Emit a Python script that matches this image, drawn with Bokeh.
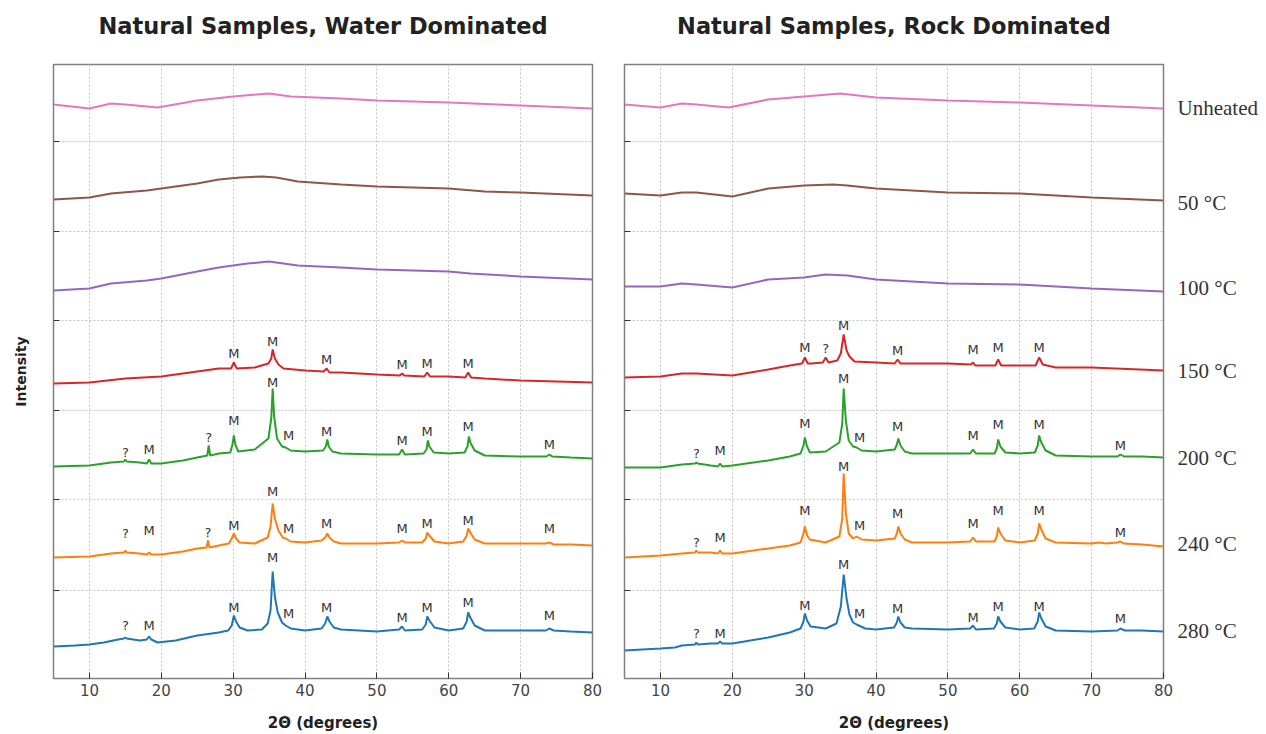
from bokeh.plotting import figure
from bokeh.models import Range1d, FixedTicker, LinearAxis, ColumnDataSource, CustomLabelingPolicy
from bokeh.layouts import row
from bokeh.core.properties import value
from bokeh.embed import file_html
from bokeh.resources import INLINE

# ---------------- data (2-theta in degrees, intensity in arbitrary offset units) -------------
TEMPS = ["280 °C", "240 °C", "200 °C", "150 °C", "100 °C", "50 °C", "Unheated"]
COLORS = ["#1f77b4", "#ff7f0e", "#2ca02c", "#d62728", "#9467bd", "#8c564b", "#e377c2"]
LABEL_Y = [48, 135, 221, 308, 391, 476, 571]
Y_TICKS = [88, 179, 268, 358, 447, 537]
X_TICKS = [10, 20, 30, 40, 50, 60, 70, 80]

# ---- Water dominated ----
W280_X = [5, 8, 10, 12, 14, 14.8, 15, 15.2, 17, 18.0, 18.3, 18.6, 19.5, 22, 25, 28, 29.3, 29.8, 30.1, 30.4, 30.9, 32, 34, 34.8, 35.2, 35.5, 35.8, 36.2, 36.8, 37.3, 38, 40, 42.3, 42.8, 43.1, 43.4, 44, 45, 50, 53.1, 53.5, 53.9, 56.3, 56.8, 57.0, 57.3, 58, 60, 62.0, 62.5, 62.7, 63.0, 63.6, 65, 70, 73.5, 74, 74.6, 77, 80]
W280_Y = [32, 33, 34, 36, 39, 40, 41, 40, 38, 39, 42, 39, 36, 38, 43, 46, 48, 53, 63, 57, 51, 48, 49, 55, 68, 107, 82, 66, 56, 53, 50, 48, 50, 55, 62, 57, 51, 49, 47, 49, 52, 48, 49, 54, 62, 58, 51, 48, 50, 57, 66, 61, 53, 48, 48, 48, 50, 48, 47, 46]
W240_X = [5, 10, 13, 14.8, 15, 15.2, 17, 18.0, 18.3, 18.6, 20, 23, 25, 26.3, 26.5, 26.7, 28, 29.4, 29.8, 30.1, 30.4, 30.9, 33, 34.8, 35.2, 35.5, 35.8, 36.3, 36.9, 37.3, 38, 40, 42.3, 42.8, 43.1, 43.4, 44, 45, 50, 53.1, 53.5, 53.9, 56.3, 56.8, 57.0, 57.3, 58, 60, 62.0, 62.5, 62.7, 63.0, 63.6, 65, 70, 73.5, 74, 74.6, 77, 80]
W240_Y = [121, 122, 125, 126, 128, 126, 125, 124, 126, 124, 124, 127, 130, 131, 138, 131, 133, 135, 140, 145, 140, 136, 135, 141, 152, 175, 160, 148, 141, 140, 137, 136, 138, 141, 145, 141, 137, 135, 135, 136, 138, 136, 136, 140, 146, 143, 137, 135, 137, 143, 150, 146, 139, 135, 135, 135, 136, 134, 134, 133]
W200_X = [5, 10, 13, 14.8, 15, 15.2, 17, 18.0, 18.3, 18.6, 20, 23, 25, 26.4, 26.6, 26.8, 28, 29.6, 29.9, 30.1, 30.3, 30.7, 33, 34.9, 35.3, 35.5, 35.7, 36.1, 36.8, 37.3, 38, 40, 42.5, 42.9, 43.1, 43.3, 43.8, 45, 50, 53.1, 53.5, 53.9, 56.5, 56.9, 57.1, 57.3, 57.9, 60, 62.2, 62.6, 62.8, 63.0, 63.6, 65, 70, 73.6, 74, 74.4, 77, 80]
W200_Y = [212, 213, 216, 217, 219, 217, 216, 215, 219, 215, 215, 218, 221, 223, 233, 223, 225, 226, 234, 243, 234, 227, 229, 240, 260, 290, 262, 240, 232, 231, 228, 227, 228, 232, 239, 232, 227, 225, 224, 224, 229, 224, 225, 229, 238, 232, 226, 225, 226, 232, 242, 236, 228, 223, 222, 222, 224, 222, 221, 220]
W150_X = [5, 10, 15, 20, 25, 28, 29.7, 30.1, 30.5, 33, 34.9, 35.3, 35.5, 35.8, 36.3, 37, 40, 42.6, 43.0, 43.4, 45, 50, 53.2, 53.5, 53.8, 56.6, 57.0, 57.4, 60, 62.3, 62.7, 63.1, 65, 70, 80]
W150_Y = [295, 296, 300, 302, 307, 310, 310, 316, 310, 311, 315, 320, 329, 320, 314, 310, 308, 307, 310, 306, 306, 304, 303, 305, 303, 302, 306, 302, 302, 301, 306, 301, 300, 298, 296]
W100_X = [5, 10, 13, 18, 20, 25, 28, 32, 35, 37, 39, 45, 50, 60, 63, 70, 80]
W100_Y = [388, 390, 395, 398, 400, 407, 411, 415, 417, 415, 413, 411, 409, 407, 405, 402, 399]
W050_X = [5, 10, 13, 18, 20, 25, 28, 31, 34, 36, 39, 45, 50, 60, 65, 70, 80]
W050_Y = [479, 481, 485, 488, 490, 495, 499, 501, 502, 501, 497, 494, 492, 490, 487, 486, 483]
W000_X = [5, 10, 13, 15, 19.5, 25, 30, 35, 38, 45, 50, 60, 70, 80]
W000_Y = [574, 570, 575, 574, 571, 578, 582, 585, 582, 580, 578, 576, 573, 570]

# ---- Rock dominated ----
R280_X = [5, 10, 12, 13, 14.8, 15, 15.2, 17, 18.0, 18.3, 18.6, 20, 25, 28, 29.5, 29.9, 30.1, 30.4, 30.9, 33, 34.5, 35.1, 35.5, 35.9, 36.3, 36.8, 37.3, 38.5, 40, 42.5, 42.9, 43.1, 43.4, 44, 45, 50, 53.1, 53.5, 53.9, 56.4, 56.8, 57.0, 57.3, 58, 60, 62.0, 62.5, 62.7, 63.0, 63.6, 65, 70, 73.6, 74, 74.6, 77, 80]
R280_Y = [28, 30, 31, 33, 34, 36, 34, 35, 35, 37, 35, 35, 41, 46, 50, 57, 65, 58, 52, 50, 55, 72, 104, 80, 64, 56, 54, 50, 49, 51, 56, 62, 56, 51, 50, 49, 50, 53, 49, 50, 55, 62, 57, 51, 49, 50, 57, 66, 60, 52, 48, 47, 48, 50, 48, 48, 47]
R240_X = [5, 10, 13, 14.8, 15, 15.2, 17, 18.0, 18.3, 18.6, 20, 25, 28, 29.5, 29.9, 30.1, 30.4, 30.8, 33, 34.9, 35.3, 35.5, 35.8, 36.2, 36.8, 37.3, 38, 40, 42.6, 42.9, 43.1, 43.4, 44, 45, 50, 53.1, 53.5, 53.9, 56.5, 56.8, 57.0, 57.3, 58, 60, 62.1, 62.5, 62.7, 63.0, 63.6, 65, 70, 71, 72, 73.6, 74, 74.5, 77, 80]
R240_Y = [121, 123, 125, 126, 128, 126, 126, 125, 128, 125, 125, 130, 133, 136, 145, 152, 143, 139, 136, 142, 160, 205, 165, 145, 140, 142, 139, 138, 140, 145, 152, 145, 139, 136, 136, 137, 141, 137, 137, 142, 151, 145, 138, 136, 138, 145, 155, 149, 140, 136, 135, 136, 135, 136, 137, 135, 134, 132]
R200_X = [5, 10, 13, 14.8, 15, 15.2, 17, 18.0, 18.3, 18.6, 20, 25, 28, 29.5, 29.9, 30.1, 30.4, 30.8, 33, 34.9, 35.3, 35.5, 35.8, 36.2, 36.8, 37.3, 38, 40, 42.6, 42.9, 43.1, 43.4, 44, 45, 50, 53.1, 53.5, 53.9, 56.5, 56.8, 57.0, 57.3, 58, 60, 62.1, 62.5, 62.7, 63.0, 63.6, 65, 70, 73.6, 74, 74.5, 77, 80]
R200_Y = [211, 211, 214, 215, 216, 215, 213, 212, 215, 212, 213, 218, 222, 225, 233, 241, 232, 226, 227, 236, 255, 290, 258, 238, 232, 231, 228, 227, 229, 234, 240, 233, 227, 225, 225, 225, 229, 225, 225, 230, 239, 232, 226, 225, 226, 233, 243, 236, 228, 223, 222, 222, 224, 222, 222, 221]
R150_X = [5, 10, 13, 15, 20, 25, 28, 29.7, 30.1, 30.5, 31, 32.6, 33.0, 33.4, 34.6, 35.1, 35.5, 35.9, 36.3, 37, 40, 42.6, 43.0, 43.4, 45, 49, 50, 53.2, 53.5, 53.8, 56.6, 57.0, 57.4, 62.2, 62.7, 63.2, 65, 70, 80]
R150_Y = [301, 302, 305, 305, 303, 309, 313, 315, 321, 315, 315, 316, 321, 316, 318, 325, 344, 328, 322, 317, 316, 315, 319, 315, 315, 315, 315, 314, 316, 313, 313, 319, 313, 313, 321, 314, 311, 311, 308]
R100_X = [5, 10, 13, 15, 20, 25, 30, 33, 36, 40, 50, 60, 70, 80]
R100_Y = [392, 392, 395, 394, 391, 399, 401, 404, 403, 399, 395, 394, 390, 387]
R050_X = [5, 10, 13, 15, 20, 25, 30, 34, 36, 40, 50, 60, 70, 80]
R050_Y = [485, 483, 486, 486, 482, 490, 493, 494, 493, 490, 486, 485, 481, 478]
R000_X = [5, 10, 13, 15, 19.5, 25, 30, 35, 40, 50, 60, 70, 80]
R000_Y = [574, 571, 575, 574, 571, 579, 582, 585, 581, 578, 576, 573, 570]

# ---- peak annotations (M = magnetite, ? = unidentified) ----
W_ANN_X = [30.1, 35.5, 43, 53.5, 57, 62.7,
           15, 18.3, 26.6, 30.1, 35.5, 37.7, 43, 53.5, 57, 62.7, 74,
           15, 18.3, 26.5, 30.1, 35.5, 37.7, 43, 53.5, 57, 62.7, 74,
           15, 18.3, 30.1, 35.5, 37.7, 43, 53.5, 57, 62.7, 74]
W_ANN_Y = [325, 337, 319, 314, 315, 315,
           226, 229, 241, 258, 296, 243, 247, 238, 247, 252, 234,
           145, 148, 146, 153, 187, 150, 155, 150, 155, 158, 150,
           53, 53, 71, 121, 65, 71, 61, 71, 76, 63]
W_ANN_T = ["M", "M", "M", "M", "M", "M",
           "?", "M", "?", "M", "M", "M", "M", "M", "M", "M", "M",
           "?", "M", "?", "M", "M", "M", "M", "M", "M", "M", "M",
           "?", "M", "M", "M", "M", "M", "M", "M", "M", "M"]
R_ANN_X = [30.1, 33, 35.5, 43, 53.5, 57, 62.7,
           15, 18.3, 30.1, 35.5, 37.7, 43, 53.5, 57, 62.7, 74,
           15, 18.3, 30.1, 35.5, 37.7, 43, 53.5, 57, 62.7, 74,
           15, 18.3, 30.1, 35.5, 37.7, 43, 53.5, 57, 62.7, 74]
R_ANN_Y = [331, 330, 353, 328, 329, 331, 331,
           225, 228, 255, 300, 241, 252, 243, 254, 254, 233,
           136, 141, 168, 212, 153, 165, 155, 168, 168, 146,
           45, 45, 73, 114, 65, 70, 61, 72, 72, 60]
R_ANN_T = ["M", "?", "M", "M", "M", "M", "M",
           "?", "M", "M", "M", "M", "M", "M", "M", "M", "M",
           "?", "M", "M", "M", "M", "M", "M", "M", "M", "M",
           "?", "M", "M", "M", "M", "M", "M", "M", "M", "M"]

WATER = [(W280_X, W280_Y), (W240_X, W240_Y), (W200_X, W200_Y), (W150_X, W150_Y),
         (W100_X, W100_Y), (W050_X, W050_Y), (W000_X, W000_Y)]
ROCK = [(R280_X, R280_Y), (R240_X, R240_Y), (R200_X, R200_Y), (R150_X, R150_Y),
        (R100_X, R100_Y), (R050_X, R050_Y), (R000_X, R000_Y)]

FRAME_W = 539
FRAME_H = 614
TOP = 64
BOTTOM = 56

NO_LABELS = CustomLabelingPolicy(code="""
const n = indices.size;
for (let i = 0; i < n; i++) indices.unset(i);
return indices;
""")


def make_panel(title, curves, ann_x, ann_y, ann_t, left_border, right_border, show_ylabel):
    p = figure(width=left_border + FRAME_W + right_border, height=TOP + FRAME_H + BOTTOM,
               x_range=Range1d(5, 80), y_range=Range1d(0, 614),
               output_backend="svg", toolbar_location=None, tools="",
               min_border_left=left_border, min_border_right=right_border,
               min_border_top=TOP, min_border_bottom=BOTTOM,
               background_fill_color="white", border_fill_color="white")
    p.title.text = title
    p.title.align = "center"
    p.title.vertical_align = "top"
    p.title.text_font = "DejaVu Sans"
    p.title.text_font_style = "bold"
    p.title.text_font_size = "22.5px"
    p.title.text_color = "#222222"
    try:
        p.title.padding = dict(left=0, right=0, top=0, bottom=19)
        p.title.standoff = 10
    except Exception:
        p.title.standoff = 28

    p.outline_line_color = "#808080"
    p.outline_line_width = 1.5

    # x axis
    xa = p.xaxis[0]
    xa.ticker = FixedTicker(ticks=X_TICKS)
    xa.axis_label = "2Θ (degrees)"
    xa.axis_label_text_font = "DejaVu Sans"
    xa.axis_label_text_font_style = "bold"
    xa.axis_label_text_font_size = "15px"
    xa.axis_label_text_color = "#222222"
    xa.axis_label_standoff = 15
    xa.major_label_text_font = "DejaVu Sans"
    xa.major_label_text_font_size = "15px"
    xa.major_label_text_color = "#444444"
    xa.major_label_standoff = 5
    xa.major_tick_in = 6
    xa.major_tick_out = 0
    xa.minor_tick_line_color = None
    xa.axis_line_color = "#808080"
    xa.major_tick_line_color = "#333333"

    # y axis (ticks only, no tick labels)
    ya = p.yaxis[0]
    ya.ticker = FixedTicker(ticks=Y_TICKS)
    ya.major_label_policy = NO_LABELS
    ya.major_label_text_font_size = "0px"
    ya.major_label_standoff = 0
    ya.major_tick_in = 6
    ya.major_tick_out = 0
    ya.minor_tick_line_color = None
    ya.axis_line_color = "#808080"
    ya.major_tick_line_color = "#333333"
    if show_ylabel:
        ya.axis_label = "Intensity"
        ya.axis_label_text_font = "DejaVu Sans"
        ya.axis_label_text_font_style = "bold"
        ya.axis_label_text_font_size = "14px"
        ya.axis_label_text_color = "#222222"
        ya.axis_label_standoff = 25

    p.xgrid.ticker = FixedTicker(ticks=X_TICKS[:-1])
    p.ygrid.ticker = FixedTicker(ticks=Y_TICKS)
    for g in (p.xgrid[0], p.ygrid[0]):
        g.grid_line_color = "#c4c4c4"
        g.grid_line_dash = "2 2"
        g.grid_line_width = 1

    for (xs, ys), c in zip(curves, COLORS):
        p.line(xs, ys, line_color=c, line_width=2)

    src = ColumnDataSource(dict(x=ann_x, y=ann_y, t=ann_t))
    p.text(x="x", y="y", text="t", source=src, text_font=value("DejaVu Sans"),
           text_font_size="13px", text_color="#333333",
           text_align="center", text_baseline="middle")
    return p


p1 = make_panel("Natural Samples, Water Dominated", WATER, W_ANN_X, W_ANN_Y, W_ANN_T,
                53, 16, True)
p2 = make_panel("Natural Samples, Rock Dominated", ROCK, R_ANN_X, R_ANN_Y, R_ANN_T,
                16, 103, False)

ra = LinearAxis(ticker=FixedTicker(ticks=LABEL_Y),
                major_label_overrides={y: t for y, t in zip(LABEL_Y, TEMPS)})
ra.axis_line_color = None
ra.major_tick_line_color = None
ra.minor_tick_line_color = None
ra.major_tick_in = 0
ra.major_tick_out = 0
ra.major_label_standoff = 14
ra.major_label_text_font = "Liberation Serif"
ra.major_label_text_font_size = "21px"
ra.major_label_text_color = "#333333"
p2.add_layout(ra, "right")

layout = row(p1, p2)
open("out.html", "w").write(file_html(layout, INLINE))
